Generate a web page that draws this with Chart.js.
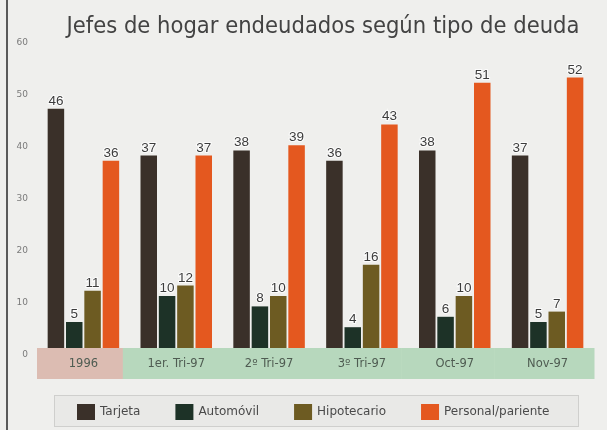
<!DOCTYPE html>
<html>
<head>
<meta charset="utf-8">
<script src="https://cdn.jsdelivr.net/npm/chart.js@4"></script>
<style>
  html, body { margin:0; padding:0; background:#efefed; }
  #wrap { width:607px; height:430px; }
</style>
</head>
<body>
<div id="wrap"><canvas id="chart" width="607" height="430"></canvas></div>
<script>
/* DATOS */
const periods = ["1996", "1er. Tri-97", "2º Tri-97", "3º Tri-97", "Oct-97", "Nov-97"];
const tarjeta = [46, 37, 38, 36, 38, 37];
const automovil = [5, 10, 8, 4, 6, 5];
const hipotecario = [11, 12, 10, 16, 10, 7];
const personal = [36, 37, 39, 43, 51, 52];
const yTicks = [0, 10, 20, 30, 40, 50, 60];

const titleText = "Jefes de hogar endeudados según tipo de deuda";

/* FONDO, TITULO, FRANJA Y LEYENDA */
const decor = {
  id: "decor",
  beforeDraw(chart) {
    const ctx = chart.ctx;
    const x = chart.scales.x;
    const w = x.width / periods.length;
    ctx.save();
    // borde izquierdo del recorte
    ctx.fillStyle = "#5a5a5a";
    ctx.fillRect(6, 0, 2, 430);
    // titulo
    ctx.fillStyle = "#434343";
    ctx.textAlign = "center";
    ctx.textBaseline = "alphabetic";
    ctx.font = "23.5px 'Liberation Sans Narrow', 'DejaVu Sans Condensed', sans-serif";
    ctx.fillText(titleText, 323, 33);
    // franja de periodos
    periods.forEach((p, i) => {
      ctx.fillStyle = i === 0 ? "#dcbcb2" : "#b7d8bd";
      const left = i === 0 ? x.left : x.left + i * w - 7;
      const right = i === 0 ? x.left + w - 7 : x.left + (i + 1) * w - (i === periods.length - 1 ? 0 : 7);
      ctx.fillRect(left, x.top, right - left + 0.5, x.height);
    });
    ctx.restore();
  },
  afterDraw(chart) {
    const ctx = chart.ctx;
    ctx.save();
    ctx.fillStyle = "#e9e9e7";
    ctx.strokeStyle = "#cfcfcd";
    ctx.lineWidth = 1;
    ctx.fillRect(54, 395, 524, 31);
    ctx.strokeRect(54.5, 395.5, 524, 31);
    ctx.font = "12px 'DejaVu Sans', sans-serif";
    ctx.textBaseline = "middle";
    ctx.textAlign = "left";
    let lx = 77;
    chart.data.datasets.forEach(ds => {
      ctx.fillStyle = ds.backgroundColor;
      ctx.fillRect(lx, 404, 18, 16);
      ctx.fillStyle = "#4a4a4a";
      ctx.fillText(ds.label, lx + 23, 412);
      lx += 23 + ctx.measureText(ds.label).width + 35;
    });
    ctx.restore();
  }
};

/* ETIQUETAS DE VALOR */
const valueLabels = {
  id: "valueLabels",
  afterDatasetsDraw(chart) {
    const ctx = chart.ctx;
    ctx.save();
    ctx.font = "13.5px 'Liberation Sans', Arial, sans-serif";
    ctx.textAlign = "center";
    ctx.textBaseline = "bottom";
    ctx.lineWidth = 2;
    ctx.strokeStyle = "rgba(255,255,255,0.8)";
    ctx.fillStyle = "#3c3c3c";
    chart.data.datasets.forEach((ds, di) => {
      chart.getDatasetMeta(di).data.forEach((bar, i) => {
        ctx.strokeText(ds.data[i], bar.x, bar.y - 1);
        ctx.fillText(ds.data[i], bar.x, bar.y - 1);
      });
    });
    ctx.restore();
  }
};

new Chart(document.getElementById("chart"), {
  type: "bar",
  data: {
    labels: periods,
    datasets: [
      { label: "Tarjeta", data: tarjeta, backgroundColor: "#3a3029" },
      { label: "Automóvil", data: automovil, backgroundColor: "#1d3227" },
      { label: "Hipotecario", data: hipotecario, backgroundColor: "#6d5b22" },
      { label: "Personal/pariente", data: personal, backgroundColor: "#e4581f" }
    ]
  },
  options: {
    responsive: false,
    animation: false,
    layout: { padding: { left: 0, right: 13, top: 36, bottom: 51 } },
    datasets: { bar: { categoryPercentage: 0.79, barPercentage: 0.9 } },
    plugins: {
      legend: { display: false },
      title: { display: false },
      tooltip: { enabled: false }
    },
    scales: {
      x: {
        grid: { display: false, drawTicks: false },
        border: { display: false },
        afterFit(s) { s.height = 31; },
        ticks: {
          padding: 9,
          color: "#4f5c52",
          font: { size: 11.5, family: "'DejaVu Sans', sans-serif" }
        }
      },
      y: {
        min: 0,
        max: 60,
        afterFit(s) { s.width = 37; },
        afterBuildTicks(s) { s.ticks = yTicks.map(v => ({ value: v })); },
        grid: { display: false, drawTicks: false },
        border: { display: false },
        ticks: {
          padding: 9,
          labelOffset: 7,
          color: "#7a7a7a",
          font: { size: 9, family: "'DejaVu Sans', sans-serif" }
        }
      }
    }
  },
  plugins: [decor, valueLabels]
});
</script>
</body>
</html>
